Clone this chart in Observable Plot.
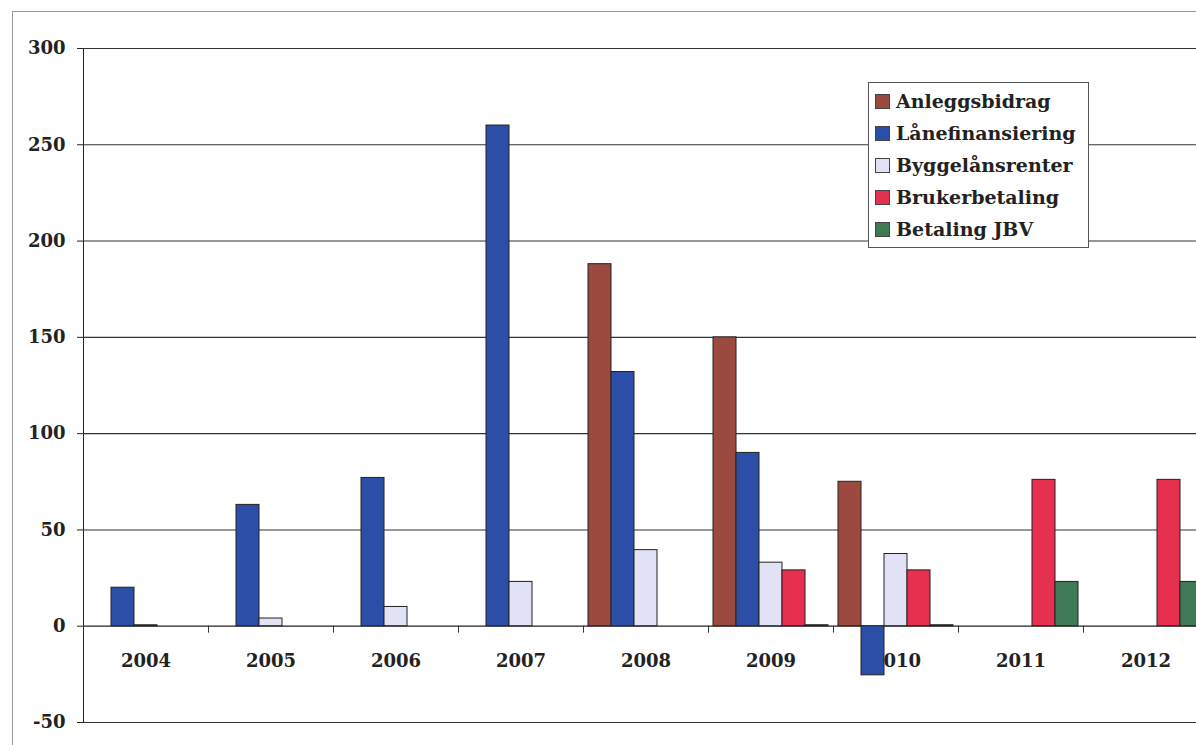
<!DOCTYPE html>
<html>
<head>
<meta charset="utf-8">
<script src="https://cdn.jsdelivr.net/npm/d3@7"></script>
<script src="https://cdn.jsdelivr.net/npm/@observablehq/plot@0.6"></script>
<style>
  html, body { margin: 0; padding: 0; background: #fff; overflow: hidden; width: 1196px; height: 745px; }
  #wrap { position: relative; width: 1196px; height: 745px; overflow: hidden; }
  #border { position: absolute; left: 12px; top: 11px; width: 1300px; height: 800px; border: 1px solid #9a9a9a; box-sizing: border-box; }
  #chart { position: absolute; left: 0; top: 0; }
  #legend { position: absolute; left: 868px; top: 82px; width: 221px; height: 166px; border: 1px solid #555; background: #fff; box-sizing: border-box; padding: 2px 0 0 6px; font-family: "DejaVu Serif", serif; font-weight: bold; font-size: 19px; color: #222; }
  .item { display: flex; align-items: center; height: 32px; white-space: nowrap; }
  .sw { width: 13px; height: 13px; border: 1px solid #444; margin-right: 6px; flex: none; }
</style>
</head>
<body>
<div id="wrap">
  <div id="border"></div>
  <div id="chart"></div>
  <div id="legend"></div>
</div>
<script>
const years = ["2004", "2005", "2006", "2007", "2008", "2009", "2010", "2011", "2012"];
const series = ["Anleggsbidrag", "Lånefinansiering", "Byggelånsrenter", "Brukerbetaling", "Betaling JBV"];
const colors = ["#9c4a3f", "#2c4ea6", "#e2e2f7", "#e6304f", "#3f7a57"];

const anleggsbidrag    = [null, null, null, null, 188, 150, 75, null, null];
const laanefinansiering = [20, 63, 77, 260, 132, 90, -25.5, null, null];
const byggelaansrenter = [0.5, 4, 10, 23, 39.5, 33, 37.5, null, null];
const brukerbetaling   = [null, null, null, null, null, 29, 29, 76, 76];
const betalingJBV      = [null, null, null, null, null, 0.5, 0.5, 23, 23];

const yTicks = [-50, 0, 50, 100, 150, 200, 250, 300];
const gridValues = [-50, 50, 100, 150, 200, 250, 300];

const seriesValues = [anleggsbidrag, laanefinansiering, byggelaansrenter, brukerbetaling, betalingJBV];
const rows = [];
series.forEach((s, j) => {
  years.forEach((y, i) => {
    const v = seriesValues[j][i];
    if (v !== null) rows.push({year: y, series: s, value: v});
  });
});

const chart = Plot.plot({
  width: 1212,
  height: 745,
  marginLeft: 83,
  marginRight: 4,
  marginTop: 48,
  marginBottom: 23,
  style: {fontFamily: "DejaVu Serif, serif", fontSize: "18px", fontWeight: "bold", color: "#222", background: "transparent", maxWidth: "none", overflow: "visible"},
  fx: {domain: years, padding: 0, axis: null, label: null},
  x: {domain: series, paddingInner: 0, paddingOuter: 0.18, axis: null, label: null},
  y: {domain: [-50, 300], ticks: yTicks, tickFormat: d => String(d), tickSize: 6, tickPadding: 12, label: null, line: true},
  color: {domain: series, range: colors},
  marks: [
    Plot.ruleY(gridValues, {stroke: "#333", strokeWidth: 1.1}),
    Plot.ruleY([0], {stroke: "#222", strokeWidth: 1.2}),
    Plot.ruleX(years, {fx: d => d, x: () => series[0], y1: 0, y2: -3.6, dx: -16.5, stroke: "#333"}),
    Plot.text(years, {fx: d => d, y: () => 0, text: d => d, dy: 35, fontSize: 18, fontWeight: "bold", fill: "#222"}),
    Plot.barY(rows, {fx: "year", x: "series", y: "value", fill: "series", stroke: "#222", strokeWidth: 1})
  ]
});
document.getElementById("chart").appendChild(chart);

const legend = document.getElementById("legend");
series.forEach((s, j) => {
  const item = document.createElement("div");
  item.className = "item";
  const sw = document.createElement("span");
  sw.className = "sw";
  sw.style.background = colors[j];
  const label = document.createElement("span");
  label.textContent = s;
  item.appendChild(sw);
  item.appendChild(label);
  legend.appendChild(item);
});
</script>
</body>
</html>
